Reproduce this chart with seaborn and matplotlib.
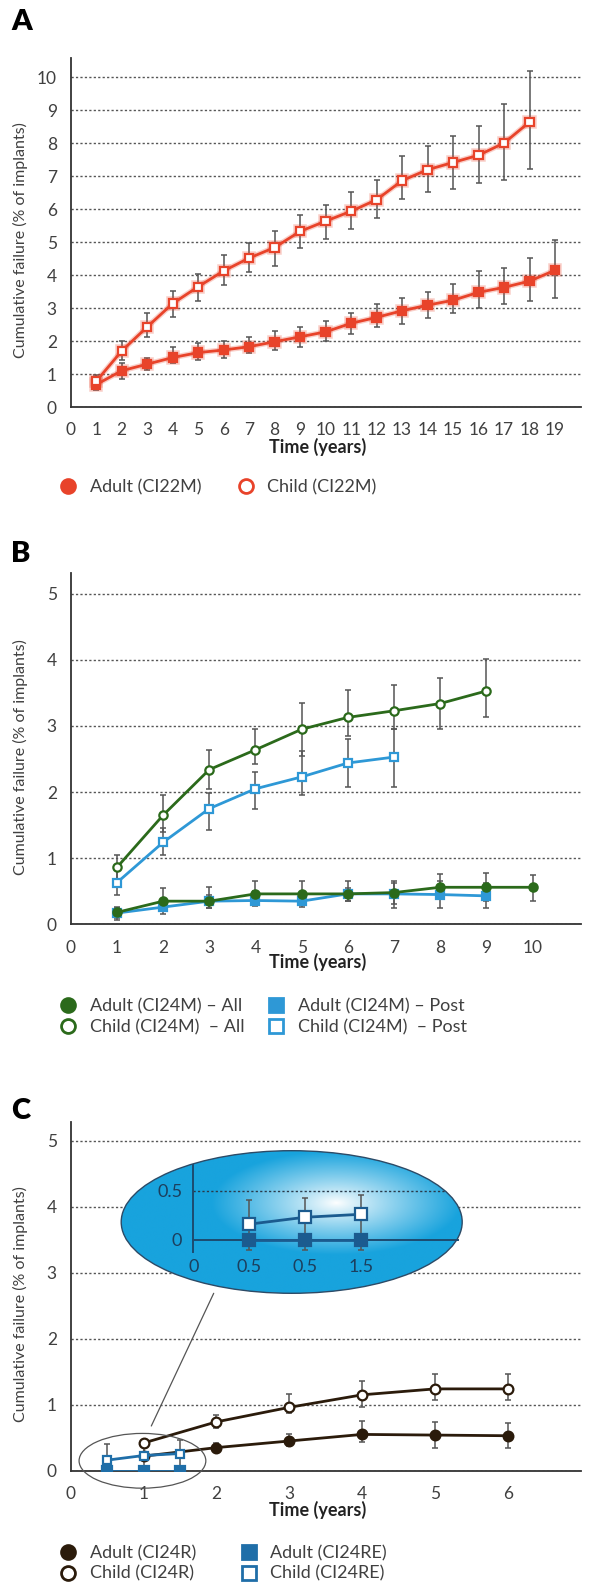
import numpy as np
import matplotlib
matplotlib.use('Agg')
import matplotlib.pyplot as plt
import matplotlib.patheffects as pe
from matplotlib.lines import Line2D
from matplotlib.patches import Ellipse
import seaborn as sns

W, H = 593, 1590

# ---------------- panel A: CI22M ----------------
A_ADULT_YEARS = list(range(1, 20))
A_ADULT = [0.68, 1.10, 1.30, 1.50, 1.65, 1.73, 1.83, 1.98, 2.13, 2.28,
           2.54, 2.72, 2.92, 3.09, 3.24, 3.48, 3.63, 3.82, 4.15]
A_ADULT_LO = [0.52, 0.84, 1.12, 1.32, 1.42, 1.50, 1.63, 1.73, 1.83, 2.01,
              2.21, 2.43, 2.52, 2.71, 2.84, 2.99, 3.14, 3.22, 3.32]
A_ADULT_HI = [0.90, 1.32, 1.50, 1.83, 1.93, 1.99, 2.11, 2.31, 2.42, 2.60,
              2.84, 3.11, 3.32, 3.49, 3.73, 4.12, 4.22, 4.52, 5.08]

A_CHILD_YEARS = list(range(1, 19))
A_CHILD = [0.78, 1.70, 2.43, 3.14, 3.65, 4.13, 4.52, 4.84, 5.33, 5.64,
           5.94, 6.29, 6.87, 7.20, 7.42, 7.64, 8.01, 8.65]
A_CHILD_LO = [0.62, 1.42, 2.13, 2.73, 3.22, 3.70, 4.10, 4.28, 4.81, 5.11,
              5.41, 5.72, 6.30, 6.52, 6.60, 6.81, 6.90, 7.21]
A_CHILD_HI = [0.97, 2.00, 2.85, 3.52, 4.03, 4.60, 4.99, 5.33, 5.82, 6.12,
              6.52, 6.90, 7.63, 7.93, 8.22, 8.52, 9.20, 10.18]
A_LABELS = ['Adult (CI22M)', 'Child (CI22M)']

# ---------------- panel B: CI24M ----------------
B_ADULT_ALL_YEARS = list(range(1, 11))
B_ADULT_ALL = [0.18, 0.35, 0.35, 0.46, 0.46, 0.46, 0.48, 0.56, 0.56, 0.56]
B_ADULT_ALL_LO = [0.09, 0.20, 0.25, 0.30, 0.30, 0.35, 0.30, 0.40, 0.35, 0.35]
B_ADULT_ALL_HI = [0.26, 0.55, 0.56, 0.66, 0.65, 0.65, 0.65, 0.76, 0.78, 0.75]

B_CHILD_ALL_YEARS = list(range(1, 10))
B_CHILD_ALL = [0.86, 1.65, 2.34, 2.64, 2.95, 3.13, 3.23, 3.34, 3.53]
B_CHILD_ALL_LO = [0.68, 1.40, 2.05, 2.43, 2.55, 2.85, 2.95, 2.96, 3.13]
B_CHILD_ALL_HI = [1.05, 1.95, 2.63, 2.95, 3.35, 3.54, 3.62, 3.73, 4.02]

B_ADULT_POST_YEARS = list(range(1, 10))
B_ADULT_POST = [0.17, 0.26, 0.35, 0.36, 0.35, 0.46, 0.46, 0.45, 0.43]
B_ADULT_POST_LO = [0.07, 0.15, 0.25, 0.28, 0.26, 0.35, 0.25, 0.25, 0.25]
B_ADULT_POST_HI = [0.25, 0.38, 0.45, 0.50, 0.45, 0.55, 0.62, 0.65, 0.62]

B_CHILD_POST_YEARS = list(range(1, 8))
B_CHILD_POST = [0.63, 1.24, 1.75, 2.05, 2.23, 2.44, 2.53]
B_CHILD_POST_LO = [0.45, 1.05, 1.43, 1.75, 1.95, 2.07, 2.07]
B_CHILD_POST_HI = [0.85, 1.46, 1.99, 2.30, 2.62, 2.80, 2.95]
B_LABELS = ['Adult (CI24M) \u2013 All', 'Child (CI24M)  \u2013 All',
            'Adult (CI24M) \u2013 Post', 'Child (CI24M)  \u2013 Post']

# ---------------- panel C: CI24R / CI24RE ----------------
C_R_YEARS = list(range(1, 7))
C_ADULT_R = [0.22, 0.35, 0.45, 0.55, 0.54, 0.53]
C_ADULT_R_LO = [0.22, 0.28, 0.37, 0.43, 0.35, 0.35]
C_ADULT_R_HI = [0.22, 0.42, 0.55, 0.75, 0.74, 0.72]
C_CHILD_R = [0.42, 0.74, 0.96, 1.15, 1.24, 1.24]
C_CHILD_R_LO = [0.38, 0.65, 0.88, 0.97, 1.07, 1.07]
C_CHILD_R_HI = [0.46, 0.85, 1.16, 1.36, 1.46, 1.46]

C_RE_YEARS = [0.5, 1.0, 1.5]
C_ADULT_RE = [0.0, 0.0, 0.0]
C_CHILD_RE = [0.16, 0.23, 0.26]
C_CHILD_RE_LO = [-0.10, -0.10, -0.10]
C_CHILD_RE_HI = [0.41, 0.43, 0.46]
C_LABELS = ['Adult (CI24R)', 'Child (CI24R)', 'Adult (CI24RE)', 'Child (CI24RE)']

INSET_XTICKS = [0, 0.5, 1.0, 1.5]
INSET_XTICKLABELS = ['0', '0.5', '0.5', '1.5']

RED = '#e8432a'
GREEN = '#2b6a1b'
BLUE = '#2e98d6'
BROWN = '#2b1b0b'
RE_BLUE = '#1f6ea8'
INSET_BLUE = '#1b5b8f'
ELL_BLUE = np.array([0x18, 0xa3, 0xdd]) / 255
BAR = '#555555'
TXT = '#404040'

sns.set_style('white')
plt.rcParams['font.family'] = ['Lato', 'DejaVu Sans']


def fx(px):
    return px / W


def fy(py):
    return 1 - py / H


def make_axes(fig, top, zero, xmax, ymax, nx, ny):
    ax = fig.add_axes([fx(70.7), fy(zero), fx(580.6 - 70.7), (zero - top) / H])
    ax.set_xlim(0, xmax)
    ax.set_ylim(0, ymax)
    ax.set_xticks(range(0, nx + 1))
    ax.set_yticks(range(0, ny + 1))
    ax.grid(axis='y', linestyle=(0, (1.6, 1.6)), color='#555555', lw=1.0)
    ax.set_axisbelow(True)
    sns.despine(ax=ax)
    for s in ['left', 'bottom']:
        ax.spines[s].set_color('#333333')
        ax.spines[s].set_linewidth(1.3)
    ax.tick_params(axis='y', length=0, pad=10, labelsize=12.5, labelcolor=TXT)
    ax.tick_params(axis='x', length=6, width=1, color='#333333', pad=5,
                   labelsize=12.5, labelcolor=TXT)
    ax.set_xlabel('')
    ax.set_ylabel('')
    return ax


def series(ax, x, y, lo, hi, color, marker, filled, ms=6, glow=False):
    ax.errorbar(x, y, yerr=[np.subtract(y, lo), np.subtract(hi, y)], fmt='none',
                ecolor=BAR, elinewidth=1.1, capsize=2.4, capthick=1.1, zorder=2)
    kw = dict(color=color, marker=marker, markersize=ms, markeredgecolor=color,
              markeredgewidth=1.6, markerfacecolor=color if filled else 'white',
              lw=2.0, zorder=3, legend=False, errorbar=None)
    sns.lineplot(x=x, y=y, ax=ax, **kw)
    if glow:
        ax.lines[-1].set_path_effects([pe.Stroke(linewidth=4.0, foreground=color, alpha=0.25),
                                       pe.Normal()])


def handle(color, marker, filled):
    return Line2D([], [], ls='', marker=marker, markersize=10, color=color,
                  markeredgecolor=color, markeredgewidth=2,
                  markerfacecolor=color if filled else 'white')


def legend_col(fig, handles, labels, xmark, ycenter):
    x0 = xmark - 10.8
    fig.legend(handles, labels, loc='center left',
               bbox_to_anchor=(fx(x0), fy(ycenter)), bbox_transform=fig.transFigure,
               frameon=False, fontsize=13, handlelength=1.2, handletextpad=0.59,
               borderpad=0, borderaxespad=0, labelspacing=0.25, labelcolor=TXT)


def labels(fig, letter, yletter, ylab_c, xlab_y):
    fig.text(fx(11), fy(yletter), letter, fontsize=21, fontweight='heavy',
             ha='left', va='center', color='black')
    fig.text(fx(20), fy(ylab_c), 'Cumulative failure (% of implants)', rotation=90,
             ha='center', va='center', fontsize=11.5, color=TXT)
    fig.text(fx(318), fy(xlab_y), 'Time (years)', ha='center', va='center',
             fontsize=13, fontweight='bold', color='#222222')


fig = plt.figure(figsize=(W / 100, H / 100), dpi=100)

# ---------- A ----------
ax_a = make_axes(fig, 58.3, 407, 20.0, 10.58, 19, 10)
series(ax_a, A_ADULT_YEARS, A_ADULT, A_ADULT_LO, A_ADULT_HI, RED, 's', True, glow=True)
series(ax_a, A_CHILD_YEARS, A_CHILD, A_CHILD_LO, A_CHILD_HI, RED, 's', False, glow=True)
labels(fig, 'A', 22, 240.5, 447)
legend_col(fig, [handle(RED, 'o', True)], A_LABELS[:1], 68, 487)
legend_col(fig, [handle(RED, 'o', False)], A_LABELS[1:], 245.8, 487)

# ---------- B ----------
ax_b = make_axes(fig, 573.3, 924.3, 11.04, 5.31, 10, 5)
series(ax_b, B_ADULT_POST_YEARS, B_ADULT_POST, B_ADULT_POST_LO, B_ADULT_POST_HI, BLUE, 's', True)
series(ax_b, B_CHILD_POST_YEARS, B_CHILD_POST, B_CHILD_POST_LO, B_CHILD_POST_HI, BLUE, 's', False)
series(ax_b, B_ADULT_ALL_YEARS, B_ADULT_ALL, B_ADULT_ALL_LO, B_ADULT_ALL_HI, GREEN, 'o', True)
series(ax_b, B_CHILD_ALL_YEARS, B_CHILD_ALL, B_CHILD_ALL_LO, B_CHILD_ALL_HI, GREEN, 'o', False)
labels(fig, 'B', 554, 757.5, 961.7)
legend_col(fig, [handle(GREEN, 'o', True), handle(GREEN, 'o', False)], B_LABELS[:2], 68, 1017)
legend_col(fig, [handle(BLUE, 's', True), handle(BLUE, 's', False)], B_LABELS[2:], 276, 1017)

# ---------- C ----------
ax_c = make_axes(fig, 1121.7, 1470.7, 7.0, 5.29, 6, 5)
series(ax_c, C_R_YEARS, C_ADULT_R, C_ADULT_R_LO, C_ADULT_R_HI, BROWN, 'o', True, ms=7)
series(ax_c, C_R_YEARS, C_CHILD_R, C_CHILD_R_LO, C_CHILD_R_HI, BROWN, 'o', False, ms=7)
series(ax_c, C_RE_YEARS, C_ADULT_RE, C_ADULT_RE, C_ADULT_RE, RE_BLUE, 's', True, ms=7)
series(ax_c, C_RE_YEARS, C_CHILD_RE, C_CHILD_RE_LO, C_CHILD_RE_HI, RE_BLUE, 's', False, ms=6)
ax_c.add_patch(Ellipse((0.985, 0.15), 1.74, 0.83, facecolor='none', edgecolor='#555555',
                       lw=0.9, clip_on=False, zorder=4))
labels(fig, 'C', 1111, 1304, 1510)
legend_col(fig, [handle(BROWN, 'o', True), handle(BROWN, 'o', False)], C_LABELS[:2], 68, 1563.5)
legend_col(fig, [handle(RE_BLUE, 's', True), handle(RE_BLUE, 's', False)], C_LABELS[2:], 248.9, 1563.5)

# magnifier bubble drawn in figure pixel space
ov = fig.add_axes([0, 0, 1, 1])
ov.set_xlim(0, W)
ov.set_ylim(H, 0)
ov.axis('off')
ecx, ecy, ew, eh = 291.7, 1222, 341, 142.6
bubble = Ellipse((ecx, ecy), ew, eh, facecolor='none', edgecolor='#2c4a66', lw=1.0, zorder=3)
ov.add_patch(bubble)
xs = np.linspace(ecx - ew / 2, ecx + ew / 2, 400)
ys = np.linspace(ecy - eh / 2, ecy + eh / 2, 200)
gx, gy = np.meshgrid(xs, ys)
t = np.clip(np.sqrt(((gx - 336.7) / 125) ** 2 + ((gy - 1203.3) / 52) ** 2), 0, 1) ** 0.9
rgb = (1 - t)[..., None] * np.ones(3) + t[..., None] * ELL_BLUE
img = ov.imshow(rgb, extent=(xs[0], xs[-1], ys[-1], ys[0]), origin='upper',
                aspect='auto', zorder=1)
img.set_clip_path(bubble)
ov.plot([213.7, 151.3], [1293.3, 1426], color='#555555', lw=0.9)
ov.set_xlim(0, W)
ov.set_ylim(H, 0)

# zoomed inset
ins = fig.add_axes([fx(193.3), fy(1251.7), fx(457.6 - 193.3), (1251.7 - 1165) / H])
ins.patch.set_alpha(0)
ins.set_xlim(0, 2.37)
ins.set_ylim(-0.119, 0.76)
sns.despine(ax=ins)
ins.spines['bottom'].set_position(('data', 0))
for s in ['left', 'bottom']:
    ins.spines[s].set_color('#1d4b70')
    ins.spines[s].set_linewidth(1.4)
ins.set_xticks(INSET_XTICKS)
ins.set_xticklabels(INSET_XTICKLABELS)
ins.set_yticks([0, 0.5])
ins.set_yticklabels(['0', '0.5'])
ins.tick_params(axis='both', length=0, labelsize=13, labelcolor='#1c3f5e')
ins.tick_params(axis='x', pad=14)
ins.tick_params(axis='y', pad=8)
gl = ins.axhline(0.5, color='#2a3a4a', lw=1.0, linestyle=(0, (1.6, 1.6)))
gl.set_clip_path(bubble)
series(ins, C_RE_YEARS, C_CHILD_RE, C_CHILD_RE_LO, C_CHILD_RE_HI, INSET_BLUE, 's', False, ms=8.5)
series(ins, C_RE_YEARS, C_ADULT_RE, C_ADULT_RE, C_ADULT_RE, INSET_BLUE, 's', True, ms=8.5)
ins.set_xlabel('')
ins.set_ylabel('')

fig.savefig('out.png', dpi=100, facecolor='white')
